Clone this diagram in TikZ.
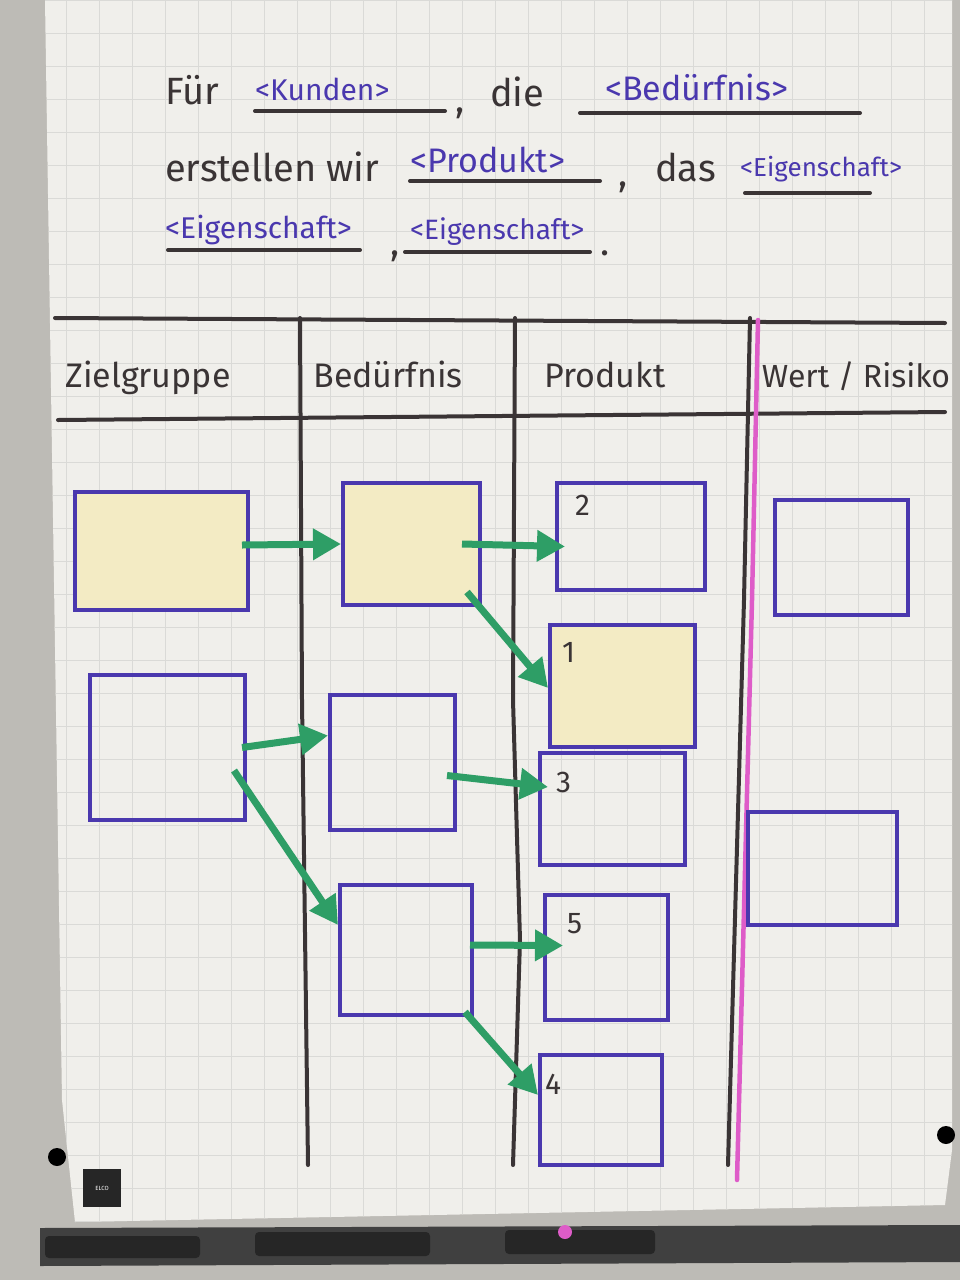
\documentclass[tikz,border=0pt]{standalone}
\usepackage{fontspec}
\setmainfont{Fira Sans}
\usepackage{xcolor}
\usetikzlibrary{arrows.meta}

\definecolor{penblue}{HTML}{4A38AE}
\definecolor{pengreen}{HTML}{2E9E66}
\definecolor{penblack}{HTML}{3A3435}
\definecolor{penpink}{HTML}{DE5CC8}
\definecolor{noteyellow}{HTML}{F3EBC4}
\definecolor{paper}{HTML}{F0EFEB}
\definecolor{gridgray}{HTML}{DADAD7}
\definecolor{wall}{HTML}{BDBBB6}

\begin{document}
\begin{tikzpicture}[
    x=1pt, y=-1pt,
    every node/.style={inner sep=0pt},
    ink/.style={draw=penblack, line width=4pt, line cap=round},
    card/.style={rectangle, draw=penblue, line width=4pt},
    note/.style={card, fill=noteyellow},
    flow/.style={draw=pengreen, line width=7pt, -{Triangle[length=28pt, width=30pt]}},
    word/.style={font=\fontsize{38}{42}\selectfont, text=penblack, anchor=base west},
    slot/.style={font=\fontsize{#1}{#1}\selectfont, text=penblue, anchor=base west},
    slot/.default=28,
    head/.style={font=\fontsize{34}{38}\selectfont, text=penblack, anchor=base},
    num/.style={font=\fontsize{30}{34}\selectfont, text=penblack, anchor=north west}
]
\useasboundingbox (0,0) rectangle (960,1280);

% wall, paper and stand
\fill[wall] (0,0) rectangle (960,1280);
\fill[paper] (45,0) -- (952,0) -- (952,1150) -- (945,1205) -- (75,1222) -- (62,1100) -- cycle;
\begin{scope}
  \clip (45,0) -- (952,0) -- (952,1150) -- (945,1205) -- (75,1222) -- (62,1100) -- cycle;
  \draw[gridgray, line width=0.8pt, step=33pt] (45,0) grid (960,1230);
\end{scope}
\fill[black!75] (40,1228) -- (960,1225) -- (960,1262) -- (40,1266) -- cycle;
\fill[black!85, rounded corners=4pt] (45,1236) rectangle (200,1258);
\fill[black!85, rounded corners=4pt] (255,1232) rectangle (430,1256);
\fill[black!85, rounded corners=4pt] (505,1230) rectangle (655,1254);
\fill[penpink] (565,1232) circle (7pt);
\fill[black] (57,1157) circle (9pt);
\fill[black] (946,1135) circle (9pt);
\node (logo) [fill=black!85, minimum size=38pt, text=white, font=\fontsize{6}{7}\selectfont] at (102,1188) {ELCO};

% statement
\node (fuer) [word] at (165,104) {Für};
\node (kunden) [slot=30] at (255,100) {<Kunden>};
\draw[ink] (255,111) -- (445,111);
\node (komma1) [word] at (455,112) {,};
\node (die) [word] at (490,106) {die};
\node (beduerfnis) [slot=34] at (605,100) {<Bedürfnis>};
\draw[ink] (580,113) -- (860,113);

\node (erstellen) [word] at (165,181) {erstellen wir};
\node (produkt) [slot=34] at (410,172) {<Produkt>};
\draw[ink] (410,181) -- (600,181);
\node (komma2) [word] at (618,186) {,};
\node (das) [word] at (655,181) {das};
\node (eig1) [slot=26] at (740,176) {<Eigenschaft>};
\draw[ink] (745,193) -- (870,193);

\node (eig2) [slot=30] at (165,238) {<Eigenschaft>};
\draw[ink] (168,250) -- (360,250);
\node (komma3) [word] at (390,255) {,};
\node (eig3) [slot=28] at (410,239) {<Eigenschaft>};
\draw[ink] (405,252) -- (590,252);
\node (punkt) [word] at (600,255) {.};

% table
\draw[ink] (55,318) -- (945,323);
\draw[ink] (58,420) -- (945,412);
\draw[ink] (300,318) -- (302,700) -- (308,1165);
\draw[ink] (515,318) -- (513,700) -- (520,940) -- (513,1165);
\draw[ink] (750,318) -- (744,600) -- (728,1165);
\draw[draw=penpink, line width=4.5pt, line cap=round] (758,320) -- (752,600) -- (737,1180);

\node (zielgruppe) [head] at (148,387) {Zielgruppe};
\node (bedurfnis) [head] at (388,387) {Bedürfnis};
\node (produkthead) [head] at (605,387) {Produkt};
\node (wert) [head, font=\fontsize{32}{36}\selectfont] at (856,387) {Wert / Risiko};

% Zielgruppe
\node (zg1) [note, minimum width=173pt, minimum height=118pt] at (161.5,551) {};
\node (zg2) [card, minimum width=155pt, minimum height=145pt] at (167.5,747.5) {};

% Beduerfnis
\node (bd1) [note, minimum width=137pt, minimum height=122pt] at (411.5,544) {};
\node (bd2) [card, minimum width=125pt, minimum height=135pt] at (392.5,762.5) {};
\node (bd3) [card, minimum width=132pt, minimum height=130pt] at (406,950) {};

% Produkt
\node (pd2) [card, minimum width=148pt, minimum height=107pt] at (631,536.5) {};
\node (pd1) [note, minimum width=145pt, minimum height=122pt] at (622.5,686) {};
\node (pd3) [card, minimum width=145pt, minimum height=112pt] at (612.5,809) {};
\node (pd5) [card, minimum width=123pt, minimum height=125pt] at (606.5,957.5) {};
\node (pd4) [card, minimum width=122pt, minimum height=110pt] at (601,1110) {};
\node (n2) [num] at (575,495) {2};
\node (n1) [num] at (562,642) {1};
\node (n3) [num] at (556,772) {3};
\node (n5) [num] at (567,913) {5};
\node (n4) [num] at (545,1074) {4};

% Wert / Risiko
\node (wr1) [card, minimum width=133pt, minimum height=115pt] at (841.5,557.5) {};
\node (wr2) [card, minimum width=149pt, minimum height=113pt] at (822.5,868.5) {};

% flows
\draw[flow] ([shift={(-8pt,6pt)}]zg1.east) -- (bd1.west);
\draw[flow] ([xshift=-20pt]bd1.east) -- ([shift={(10pt,-10pt)}]pd2.west);
\draw[flow] ([shift={(-15pt,15pt)}]bd1.south east) -- ([yshift=-2pt]pd1.west);
\draw[flow] ([xshift=-5pt]zg2.east) -- ([yshift=27pt]bd2.west);
\draw[flow] ([shift={(-13pt,-23pt)}]zg2.east) -- ([yshift=25pt]bd3.west);
\draw[flow] ([shift={(-10pt,-13pt)}]bd2.east) -- ([shift={(10pt,22pt)}]pd3.west);
\draw[flow] ([shift={(-4pt,5pt)}]bd3.east) -- ([shift={(20pt,12pt)}]pd5.west);
\draw[flow] ([shift={(-9pt,5pt)}]bd3.south east) -- ([yshift=15pt]pd4.west);

\end{tikzpicture}
\end{document}
